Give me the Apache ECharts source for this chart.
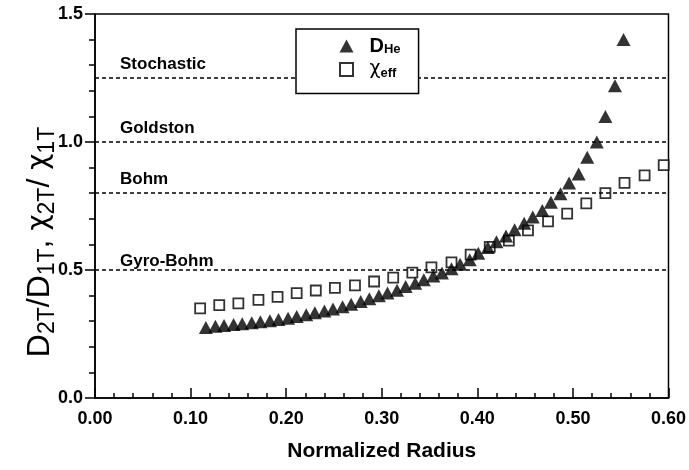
<!DOCTYPE html>
<html>
<head>
<meta charset="utf-8">
<script src="https://cdn.jsdelivr.net/npm/echarts@6/dist/echarts.min.js"></script>
<style>
  html, body { margin: 0; padding: 0; background: #fff; }
  #chart { width: 689px; height: 470px; }
</style>
</head>
<body>
<div id="chart"></div>
<script>
// D_He (triangles)
var heRadius = [0.116, 0.126, 0.135, 0.145, 0.154, 0.164, 0.173, 0.183, 0.192, 0.202,
    0.211, 0.221, 0.230, 0.240, 0.249, 0.259, 0.268, 0.278, 0.287, 0.297,
    0.306, 0.316, 0.325, 0.335, 0.344, 0.354, 0.363, 0.373, 0.382, 0.392,
    0.401, 0.411, 0.420, 0.430, 0.439, 0.449, 0.458, 0.468, 0.477, 0.487,
    0.496, 0.506, 0.515, 0.525, 0.534, 0.544, 0.553];
var heValues = [0.275, 0.280, 0.283, 0.287, 0.290, 0.294, 0.298, 0.302, 0.307, 0.312,
    0.318, 0.325, 0.333, 0.340, 0.348, 0.356, 0.366, 0.377, 0.388, 0.399,
    0.410, 0.421, 0.436, 0.448, 0.462, 0.477, 0.488, 0.505, 0.522, 0.540,
    0.565, 0.588, 0.610, 0.633, 0.657, 0.683, 0.707, 0.732, 0.765, 0.798,
    0.840, 0.875, 0.940, 1.000, 1.100, 1.220, 1.400];

// chi_eff (open squares)
var chiRadius = [0.110, 0.130, 0.150, 0.171, 0.191, 0.211, 0.231, 0.251, 0.272, 0.292,
    0.312, 0.332, 0.352, 0.373, 0.393, 0.413, 0.433, 0.453, 0.474, 0.494,
    0.514, 0.534, 0.554, 0.575, 0.595];
var chiValues = [0.350, 0.363, 0.370, 0.383, 0.395, 0.410, 0.420, 0.430, 0.440, 0.455,
    0.470, 0.490, 0.510, 0.530, 0.560, 0.590, 0.615, 0.655, 0.690, 0.720,
    0.760, 0.800, 0.840, 0.870, 0.910];

// reference transport levels
var refNames = ['Stochastic', 'Goldston', 'Bohm', 'Gyro-Bohm'];
var refLevels = [1.25, 1.0, 0.8, 0.5];

var FONT = "'Liberation Sans', Arial, sans-serif";

function pairs(xs, ys) {
    var out = [];
    for (var i = 0; i < xs.length; i++) {
        out.push([xs[i], ys[i]]);
    }
    return out;
}

var refLines = refNames.map(function (name, i) {
    return {
        name: name,
        yAxis: refLevels[i],
        label: { distance: [25, name === 'Gyro-Bohm' ? 0 : 5] }
    };
});

var chart = echarts.init(document.getElementById('chart'));
var options = {
    animation: false,
    backgroundColor: '#fff',
    grid: {
        left: 95, right: 19, top: 14, bottom: 72,
        show: true, borderColor: '#000', borderWidth: 1.5
    },
    legend: {
        orient: 'vertical',
        left: 296, top: 29,
        z: 10,
        padding: [7, 18, 14, 43],
        backgroundColor: '#fff',
        borderColor: '#000', borderWidth: 1.5,
        itemWidth: 14, itemHeight: 13, itemGap: 4,
        data: [
            { name: 'D_He', icon: 'triangle' },
            { name: 'chi_eff', icon: 'path://M0,0H10V10H0Z' }
        ],
        formatter: function (name) {
            return name === 'D_He' ? '{m|D}{s|He}' : '{c|\u03c7}{s|eff}';
        },
        textStyle: {
            padding: [0, 0, 0, 11],
            rich: {
                m: { fontFamily: FONT, fontSize: 20, fontWeight: 'bold', color: '#000', lineHeight: 20 },
                c: { fontFamily: 'DejaVu Sans', fontSize: 19, color: '#000', lineHeight: 20 },
                s: { fontFamily: FONT, fontSize: 13, fontWeight: 'bold', color: '#000',
                     verticalAlign: 'bottom', lineHeight: 12 }
            }
        }
    },
    graphic: [{
        type: 'text',
        x: 40, y: 242,
        rotation: Math.PI / 2,
        style: {
            text: '{m|D}{s|2T}{m|/D}{s|1T}{m|, }{c|\u03c7}{s|2T}{m|/ }{c|\u03c7}{s|1T}',
            align: 'center', verticalAlign: 'middle',
            rich: {
                m: { fontFamily: FONT, fontSize: 32, color: '#000', lineHeight: 38 },
                c: { fontFamily: 'DejaVu Sans', fontSize: 28, color: '#000', lineHeight: 38 },
                s: { fontFamily: FONT, fontSize: 23, color: '#000',
                     verticalAlign: 'bottom', lineHeight: 22 }
            }
        }
    }],
    xAxis: {
        type: 'value',
        min: 0, max: 0.6, interval: 0.1,
        name: 'Normalized Radius',
        nameLocation: 'middle',
        nameGap: 43,
        nameTextStyle: { fontFamily: FONT, fontSize: 21, fontWeight: 'bold', color: '#000' },
        axisLine: { lineStyle: { color: '#000', width: 1.5 } },
        axisTick: { inside: true, length: 10, lineStyle: { color: '#000', width: 1.5 } },
        minorTick: { show: true, splitNumber: 5, length: 5, lineStyle: { color: '#000', width: 1.5 } },
        splitLine: { show: false },
        axisLabel: {
            margin: 12,
            fontFamily: FONT, fontSize: 18, fontWeight: 'bold', color: '#000',
            formatter: function (v) { return v.toFixed(2); }
        }
    },
    yAxis: {
        type: 'value',
        min: 0, max: 1.5, interval: 0.5,
        axisLine: { lineStyle: { color: '#000', width: 1.5 } },
        axisTick: { inside: false, length: 10, lineStyle: { color: '#000', width: 1.5 } },
        minorTick: { show: true, splitNumber: 5, length: 6, lineStyle: { color: '#000', width: 1.5 } },
        splitLine: { show: false },
        axisLabel: {
            margin: 12,
            fontFamily: FONT, fontSize: 18, fontWeight: 'bold', color: '#000',
            formatter: function (v) { return v.toFixed(1); }
        }
    },
    series: [
        {
            name: 'chi_eff',
            type: 'scatter',
            symbol: 'rect',
            symbolSize: 10,
            itemStyle: { color: '#fff', borderColor: '#000', borderWidth: 1.8 },
            data: pairs(chiRadius, chiValues),
            z: 3,
            markLine: {
                silent: true,
                symbol: 'none',
                lineStyle: { color: '#000', type: [4, 3], width: 1.5 },
                label: {
                    show: true,
                    position: 'insideStartTop',
                    formatter: '{b}',
                    fontFamily: FONT, fontSize: 17, fontWeight: 'bold', color: '#000'
                },
                data: refLines
            }
        },
        {
            name: 'D_He',
            type: 'scatter',
            symbol: 'triangle',
            symbolSize: [14, 13],
            itemStyle: { color: '#000' },
            data: pairs(heRadius, heValues),
            z: 4
        }
    ]
};
chart.setOption(options);
</script>
</body>
</html>
